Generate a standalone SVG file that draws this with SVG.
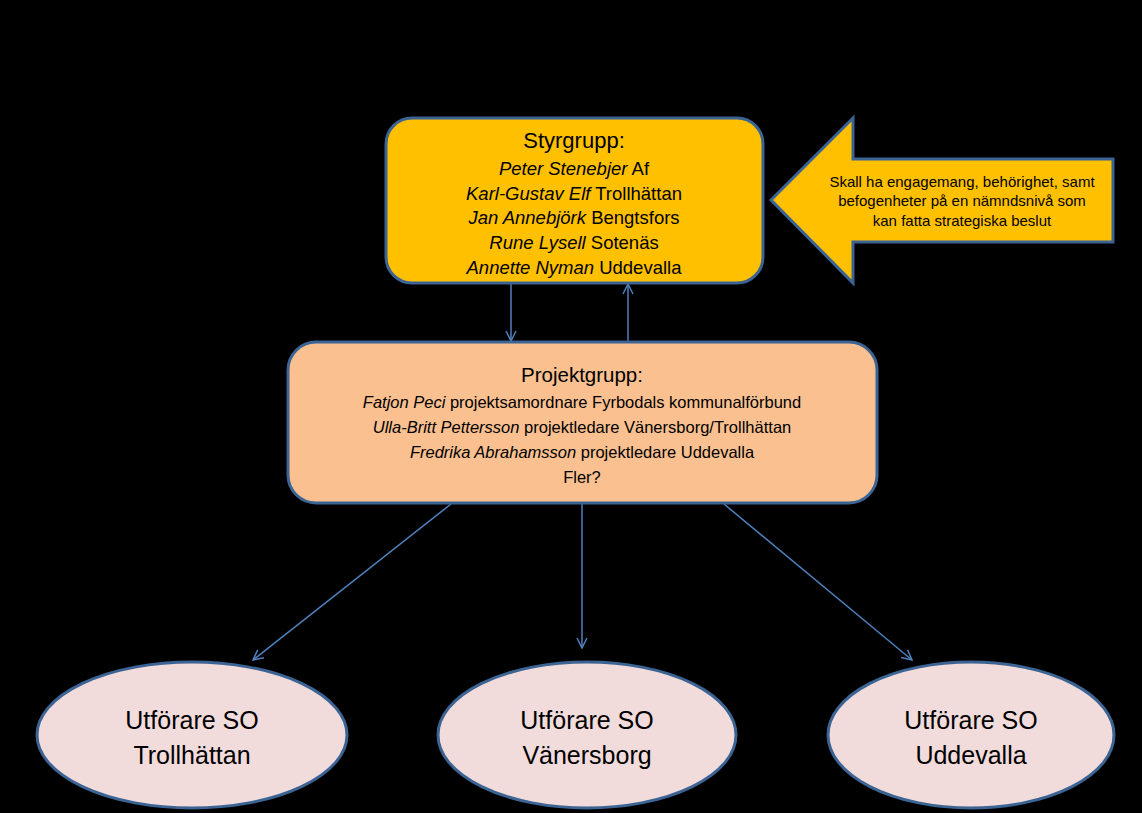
<svg xmlns="http://www.w3.org/2000/svg" width="1142" height="813" viewBox="0 0 1142 813">
<defs>
<style>
.t{font-family:"Liberation Sans","DejaVu Sans",sans-serif;fill:#000;text-anchor:middle}
.i{font-style:italic}
.c{stroke:#4F81BD;stroke-width:1.5;fill:none}
.b{stroke:#3B6393;stroke-width:3}
</style>
<marker id="ah" viewBox="0 0 12 12" refX="11" refY="6" markerWidth="12" markerHeight="12" markerUnits="userSpaceOnUse" orient="auto">
<path d="M1,1 L11,6 L1,11" fill="none" stroke="#4F81BD" stroke-width="1.5"/>
</marker>
</defs>
<rect width="1142" height="813" fill="#000"/>
<g id="connectors">
<line class="c" x1="511" y1="284" x2="511" y2="341" marker-end="url(#ah)"/>
<line class="c" x1="628" y1="341" x2="628" y2="284" marker-end="url(#ah)"/>
<line class="c" x1="451" y1="504" x2="253" y2="660" marker-end="url(#ah)"/>
<line class="c" x1="582" y1="504" x2="582" y2="648" marker-end="url(#ah)"/>
<line class="c" x1="724" y1="504" x2="912" y2="660" marker-end="url(#ah)"/>
</g>
<g id="styrgrupp">
<rect class="b" x="386" y="118" width="377" height="165" rx="26" fill="#FFC000"/>
<text class="t" x="574" y="148" font-size="22">Styrgrupp:</text>
<text class="t" x="574" y="175" font-size="18.5"><tspan class="i">Peter Stenebjer</tspan> Af</text>
<text class="t" x="574" y="200" font-size="18.5"><tspan class="i">Karl-Gustav Elf</tspan> Trollhättan</text>
<text class="t" x="574" y="224" font-size="18.5"><tspan class="i">Jan Annebjörk</tspan> Bengtsfors</text>
<text class="t" x="574" y="249" font-size="18.5"><tspan class="i">Rune Lysell</tspan> Sotenäs</text>
<text class="t" x="574" y="274" font-size="18.5"><tspan class="i">Annette Nyman</tspan> Uddevalla</text>
</g>
<g id="callout">
<path class="b" d="M771,200 L853,118 L853,159 L1113,159 L1113,242 L853,242 L853,283 Z" fill="#FFC000"/>
<text class="t" x="962" y="187" font-size="15">Skall ha engagemang, behörighet, samt</text>
<text class="t" x="962" y="206" font-size="15">befogenheter på en nämndsnivå som</text>
<text class="t" x="962" y="226" font-size="15">kan fatta strategiska beslut</text>
</g>
<g id="projektgrupp">
<rect class="b" x="288" y="342" width="589" height="161" rx="28" fill="#FAC090"/>
<text class="t" x="582" y="382" font-size="20.5">Projektgrupp:</text>
<text class="t" x="582" y="408" font-size="16.5"><tspan class="i">Fatjon Peci</tspan> projektsamordnare Fyrbodals kommunalförbund</text>
<text class="t" x="582" y="433" font-size="16.5"><tspan class="i">Ulla-Britt Pettersson</tspan> projektledare  Vänersborg/Trollhättan</text>
<text class="t" x="582" y="458" font-size="16.5"><tspan class="i">Fredrika Abrahamsson</tspan> projektledare Uddevalla</text>
<text class="t" x="582" y="483" font-size="16.5">Fler?</text>
</g>
<g id="trollhattan">
<ellipse class="b" cx="192" cy="735" rx="155" ry="73" fill="#F2DCDB"/>
<text class="t" x="192" y="729" font-size="25">Utförare SO</text>
<text class="t" x="192" y="764" font-size="25">Trollhättan</text>
</g>
<g id="vanersborg">
<ellipse class="b" cx="587" cy="735" rx="149" ry="73" fill="#F2DCDB"/>
<text class="t" x="587" y="729" font-size="25">Utförare SO</text>
<text class="t" x="587" y="764" font-size="25">Vänersborg</text>
</g>
<g id="uddevalla">
<ellipse class="b" cx="971" cy="735" rx="143" ry="73" fill="#F2DCDB"/>
<text class="t" x="971" y="729" font-size="25">Utförare SO</text>
<text class="t" x="971" y="764" font-size="25">Uddevalla</text>
</g>
</svg>
